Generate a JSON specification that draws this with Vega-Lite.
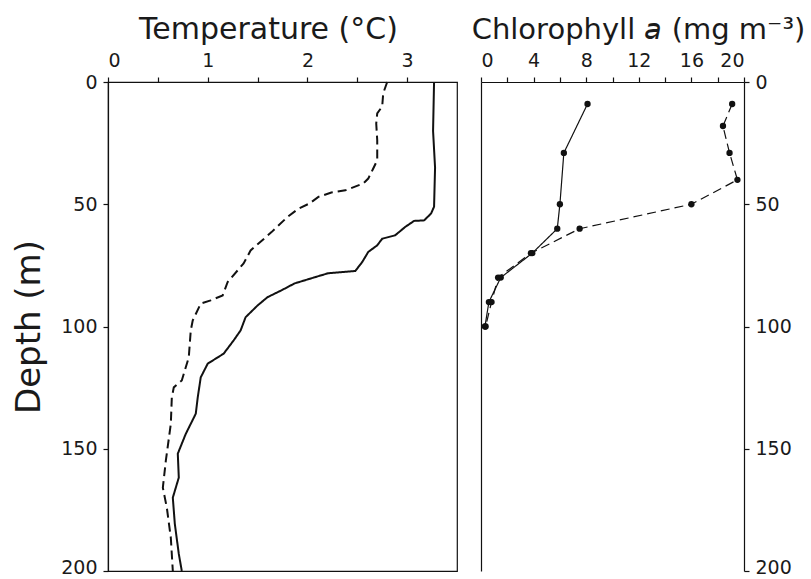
{
  "$schema": "https://vega.github.io/schema/vega-lite/v6.json",
  "background": "white",
  "padding": {"left": 12, "top": 13, "right": 5, "bottom": 2},
  "spacing": 24,
  "bounds": "flush",
  "config": {
    "font": "DejaVu Sans",
    "view": {"stroke": null},
    "axis": {
      "grid": false,
      "domainColor": "#111", "tickColor": "#111", "labelColor": "#1a1a1a", "titleColor": "#1a1a1a",
      "labelFont": "DejaVu Sans", "titleFont": "DejaVu Sans",
      "labelFontSize": 19, "titleFontSize": 30, "titleFontWeight": "normal",
      "tickSize": 5, "domainWidth": 1.2, "tickWidth": 1.2, "labelPadding": 7, "titlePadding": 7
    }
  },
  "datasets": {
    "temp": [
      {"series": "solid", "depth": 0, "temp": 3.27},
      {"series": "solid", "depth": 20, "temp": 3.26},
      {"series": "solid", "depth": 35, "temp": 3.28},
      {"series": "solid", "depth": 51, "temp": 3.27},
      {"series": "solid", "depth": 53.8, "temp": 3.24},
      {"series": "solid", "depth": 56.6, "temp": 3.17},
      {"series": "solid", "depth": 56.8, "temp": 3.07},
      {"series": "solid", "depth": 59.3, "temp": 2.98},
      {"series": "solid", "depth": 62.7, "temp": 2.88},
      {"series": "solid", "depth": 64.1, "temp": 2.75},
      {"series": "solid", "depth": 66.8, "temp": 2.70},
      {"series": "solid", "depth": 69.5, "temp": 2.61},
      {"series": "solid", "depth": 73.6, "temp": 2.55},
      {"series": "solid", "depth": 77.3, "temp": 2.48},
      {"series": "solid", "depth": 78.2, "temp": 2.21},
      {"series": "solid", "depth": 79.9, "temp": 2.07},
      {"series": "solid", "depth": 82.4, "temp": 1.87},
      {"series": "solid", "depth": 85.2, "temp": 1.74},
      {"series": "solid", "depth": 88.0, "temp": 1.60},
      {"series": "solid", "depth": 91.4, "temp": 1.50},
      {"series": "solid", "depth": 96.2, "temp": 1.38},
      {"series": "solid", "depth": 101.6, "temp": 1.33},
      {"series": "solid", "depth": 105.7, "temp": 1.26},
      {"series": "solid", "depth": 111.1, "temp": 1.16},
      {"series": "solid", "depth": 115.2, "temp": 1.00},
      {"series": "solid", "depth": 120.8, "temp": 0.93},
      {"series": "solid", "depth": 129.0, "temp": 0.90},
      {"series": "solid", "depth": 135.7, "temp": 0.88},
      {"series": "solid", "depth": 143.9, "temp": 0.78},
      {"series": "solid", "depth": 152.0, "temp": 0.70},
      {"series": "solid", "depth": 161.8, "temp": 0.71},
      {"series": "solid", "depth": 170.0, "temp": 0.65},
      {"series": "solid", "depth": 180.7, "temp": 0.67},
      {"series": "solid", "depth": 193.0, "temp": 0.71},
      {"series": "solid", "depth": 200.0, "temp": 0.74},
      {"series": "dashed", "depth": 0, "temp": 2.80},
      {"series": "dashed", "depth": 4.6, "temp": 2.76},
      {"series": "dashed", "depth": 10, "temp": 2.75},
      {"series": "dashed", "depth": 12.8, "temp": 2.70},
      {"series": "dashed", "depth": 17, "temp": 2.69},
      {"series": "dashed", "depth": 23.8, "temp": 2.70},
      {"series": "dashed", "depth": 32, "temp": 2.70},
      {"series": "dashed", "depth": 35.4, "temp": 2.66},
      {"series": "dashed", "depth": 39.5, "temp": 2.61},
      {"series": "dashed", "depth": 41.5, "temp": 2.56},
      {"series": "dashed", "depth": 44.3, "temp": 2.38},
      {"series": "dashed", "depth": 45.2, "temp": 2.24},
      {"series": "dashed", "depth": 47, "temp": 2.11},
      {"series": "dashed", "depth": 49.7, "temp": 2.02},
      {"series": "dashed", "depth": 51.8, "temp": 1.91},
      {"series": "dashed", "depth": 55.2, "temp": 1.80},
      {"series": "dashed", "depth": 61.4, "temp": 1.64},
      {"series": "dashed", "depth": 68.9, "temp": 1.43},
      {"series": "dashed", "depth": 74.2, "temp": 1.36},
      {"series": "dashed", "depth": 81.8, "temp": 1.20},
      {"series": "dashed", "depth": 87.3, "temp": 1.15},
      {"series": "dashed", "depth": 89.3, "temp": 1.03},
      {"series": "dashed", "depth": 90.6, "temp": 0.93},
      {"series": "dashed", "depth": 97.5, "temp": 0.85},
      {"series": "dashed", "depth": 101.6, "temp": 0.83},
      {"series": "dashed", "depth": 112.6, "temp": 0.81},
      {"series": "dashed", "depth": 122.1, "temp": 0.74},
      {"series": "dashed", "depth": 124.9, "temp": 0.66},
      {"series": "dashed", "depth": 129, "temp": 0.64},
      {"series": "dashed", "depth": 139.8, "temp": 0.63},
      {"series": "dashed", "depth": 154.9, "temp": 0.58},
      {"series": "dashed", "depth": 165.9, "temp": 0.55},
      {"series": "dashed", "depth": 174.1, "temp": 0.59},
      {"series": "dashed", "depth": 186.4, "temp": 0.63},
      {"series": "dashed", "depth": 200, "temp": 0.65}
    ],
    "chl": [
      {"series": "solid", "depth": 9, "chl": 8.1},
      {"series": "solid", "depth": 29, "chl": 6.3},
      {"series": "solid", "depth": 50, "chl": 6.0},
      {"series": "solid", "depth": 60, "chl": 5.8},
      {"series": "solid", "depth": 70, "chl": 3.9},
      {"series": "solid", "depth": 80, "chl": 1.5},
      {"series": "solid", "depth": 90, "chl": 0.6},
      {"series": "solid", "depth": 100, "chl": 0.3},
      {"series": "dashed", "depth": 9, "chl": 19.1},
      {"series": "dashed", "depth": 18, "chl": 18.4},
      {"series": "dashed", "depth": 29, "chl": 18.9},
      {"series": "dashed", "depth": 40, "chl": 19.5},
      {"series": "dashed", "depth": 50, "chl": 16.0},
      {"series": "dashed", "depth": 60, "chl": 7.5},
      {"series": "dashed", "depth": 70, "chl": 3.8},
      {"series": "dashed", "depth": 80, "chl": 1.3},
      {"series": "dashed", "depth": 90, "chl": 0.8},
      {"series": "dashed", "depth": 100, "chl": 0.35}
    ]
  },
  "hconcat": [
    {
      "width": 349,
      "height": 489,
      "view": {"stroke": "#111", "strokeWidth": 1.2},
      "data": {"name": "temp"},
      "mark": {"type": "line", "color": "#111", "strokeWidth": 2},
      "encoding": {
        "x": {
          "field": "temp", "type": "quantitative",
          "scale": {"domain": [0, 3.5], "nice": false, "zero": false},
          "axis": {
            "orient": "top", "title": "Temperature (°C)",
            "values": [0, 0.5, 1, 1.5, 2, 2.5, 3],
            "labelExpr": "datum.value % 1 == 0 ? format(datum.value, 'd') : ''",
            "titleX": 160
          }
        },
        "y": {
          "field": "depth", "type": "quantitative",
          "scale": {"domain": [0, 200], "reverse": true, "nice": false},
          "axis": {
            "orient": "left", "title": "Depth (m)", "titleFontSize": 34,
            "values": [0, 50, 100, 150, 200], "labelPadding": 6, "titlePadding": 14,
            "labelOffset": {"condition": {"test": "datum.value == 200", "value": -4}, "value": 0}
          }
        },
        "strokeDash": {
          "field": "series", "type": "nominal",
          "scale": {"domain": ["solid", "dashed"], "range": [[1, 0], [9, 5]]},
          "legend": null
        },
        "order": {"field": "depth", "type": "quantitative"}
      }
    },
    {
      "width": 263,
      "height": 489,
      "data": {"name": "chl"},
      "encoding": {
        "x": {
          "field": "chl", "type": "quantitative",
          "scale": {"domain": [0, 20], "nice": false},
          "axis": {
            "orient": "top", "title": "Chlorophyll 𝘢 (mg m⁻³)",
            "titleFontSize": 29,
            "values": [0, 2, 4, 6, 8, 10, 12, 14, 16, 18, 20],
            "labelExpr": "datum.value % 4 == 0 ? format(datum.value, 'd') : ''",
            "titleX": 157
          }
        }
      },
      "layer": [
        {
          "mark": {"type": "line", "color": "#111", "strokeWidth": 1.2},
          "encoding": {
            "y": {
              "field": "depth", "type": "quantitative",
              "scale": {"domain": [0, 200], "reverse": true, "nice": false},
              "axis": {
                "orient": "right", "title": null, "values": [0, 50, 100, 150, 200], "labelPadding": 6,
                "labelOffset": {"condition": {"test": "datum.value == 200", "value": -4}, "value": 0}
              }
            },
            "strokeDash": {
              "field": "series", "type": "nominal",
              "scale": {"domain": ["solid", "dashed"], "range": [[1, 0], [6, 4]]},
              "legend": null
            },
            "order": {"field": "depth", "type": "quantitative"}
          }
        },
        {
          "mark": {"type": "point", "filled": true, "color": "#111", "size": 40, "opacity": 1},
          "encoding": {
            "y": {
              "field": "depth", "type": "quantitative",
              "scale": {"domain": [0, 200], "reverse": true, "nice": false},
              "axis": {"orient": "left", "title": null, "labels": false, "ticks": false, "values": [0, 50, 100, 150, 200]}
            }
          }
        }
      ],
      "resolve": {"axis": {"y": "independent"}}
    }
  ]
}
